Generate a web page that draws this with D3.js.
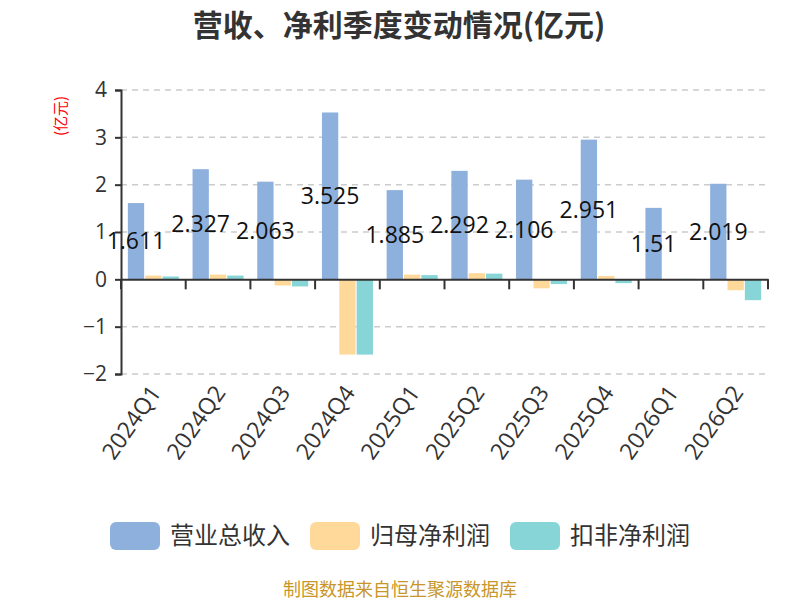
<!DOCTYPE html>
<html>
<head>
<meta charset="utf-8">
<script src="https://cdn.jsdelivr.net/npm/d3@7"></script>
<style>
  body { margin: 0; background: #fff; }
  svg { font-family: "Noto Sans CJK SC", "Noto Sans", sans-serif; }
</style>
</head>
<body>
<svg id="chart" width="800" height="600"></svg>
<script>
const quarters = ["2024Q1","2024Q2","2024Q3","2024Q4","2025Q1","2025Q2","2025Q3","2025Q4","2026Q1","2026Q2"];
const revenue = [1.611, 2.327, 2.063, 3.525, 1.885, 2.292, 2.106, 2.951, 1.51, 2.019];
const netProfit = [0.08, 0.1, -0.13, -1.59, 0.1, 0.13, -0.19, 0.07, 0.01, -0.23];
const deductProfit = [0.06, 0.08, -0.15, -1.59, 0.09, 0.12, -0.1, -0.08, 0.01, -0.44];
const seriesNames = ["营业总收入", "归母净利润", "扣非净利润"];
const colors = ["#8eb0dc", "#ffd99a", "#88d5d8"];
const yTicks = [-2, -1, 0, 1, 2, 3, 4];

const svg = d3.select("#chart");
const plotL = 121, plotR = 768, plotT = 90, plotB = 374;
const numFont = "'Open Sans', 'Noto Sans', sans-serif";

const x = d3.scaleBand().domain(quarters).range([plotL, plotR]);
const y = d3.scaleLinear().domain([-2, 4]).range([plotB, plotT]);
const inner = d3.scaleBand().domain([0, 1, 2]).range([0, 51]).paddingInner(0.06);
const barX = (i, si) => x(quarters[i]) + (x.bandwidth() - 51) / 2 + inner(si);

// title
svg.append("text").attr("x", 399).attr("y", 36).attr("text-anchor", "middle")
  .attr("font-size", 30).attr("font-weight", "bold").attr("fill", "#333")
  .text("营收、净利季度变动情况(亿元)");

// grid
svg.append("g").selectAll("line").data(yTicks.filter(d => d !== 0)).join("line")
  .attr("x1", plotL).attr("x2", plotR)
  .attr("y1", d => y(d)).attr("y2", d => y(d))
  .attr("stroke", "#ccc").attr("stroke-dasharray", "6,5").attr("stroke-width", 1.5);

// y axis
const yAxis = svg.append("g").attr("transform", `translate(${plotL},0)`)
  .call(d3.axisLeft(y).tickValues(yTicks).tickSize(6).tickPadding(8).tickFormat(d3.format("d")));
yAxis.select(".domain").attr("stroke", "#333").attr("stroke-width", 2);
yAxis.selectAll(".tick line").attr("stroke", "#333").attr("stroke-width", 2);
yAxis.selectAll("text").attr("font-size", 21).attr("fill", "#333").attr("font-family", numFont);

svg.append("text").attr("transform", `translate(66,116) rotate(-90)`)
  .attr("text-anchor", "middle").attr("font-size", 15).attr("fill", "red")
  .text("(亿元)");

// bars
const series = [revenue, netProfit, deductProfit];
series.forEach((vals, si) => {
  svg.append("g").selectAll("rect").data(vals).join("rect")
    .attr("x", (d, i) => barX(i, si))
    .attr("width", inner.bandwidth())
    .attr("y", d => y(Math.max(0, d)))
    .attr("height", d => Math.abs(y(d) - y(0)))
    .attr("fill", colors[si]);
});

// x axis at zero
const xAxis = svg.append("g").attr("transform", `translate(0,${y(0)})`)
  .call(d3.axisBottom(x).tickSize(0).tickFormat(""));
xAxis.select(".domain").attr("stroke", "#333").attr("stroke-width", 2);
svg.append("g").selectAll("line").data(d3.range(quarters.length + 1)).join("line")
  .attr("x1", i => plotL + i * x.step()).attr("x2", i => plotL + i * x.step())
  .attr("y1", y(0)).attr("y2", y(0) + 10)
  .attr("stroke", "#333").attr("stroke-width", 2);

// x labels
svg.append("g").selectAll("text").data(quarters).join("text")
  .attr("transform", d => `translate(${x(d) + x.bandwidth() / 2 + 2},${plotB + 14}) rotate(-55)`)
  .attr("text-anchor", "end").attr("dy", "0.35em")
  .attr("font-size", 23).attr("fill", "#333").attr("font-family", numFont)
  .text(d => d);

// value labels, centred on the revenue bar
svg.append("g").selectAll("text").data(revenue).join("text")
  .attr("x", (d, i) => barX(i, 0) + inner.bandwidth() / 2)
  .attr("y", d => y(d / 2))
  .attr("dy", "0.35em").attr("text-anchor", "middle")
  .attr("font-size", 23).attr("fill", "#111").attr("font-family", numFont)
  .text(d => d);

// legend
const legend = svg.append("g").selectAll("g").data(seriesNames).join("g")
  .attr("transform", (d, i) => `translate(${110 + i * 200},522)`);
legend.append("rect").attr("width", 50).attr("height", 28).attr("rx", 6)
  .attr("fill", (d, i) => colors[i]);
legend.append("text").attr("x", 60).attr("y", 14).attr("dy", "0.35em")
  .attr("font-size", 24).attr("fill", "#333").text(d => d);

// footer
svg.append("text").attr("x", 400).attr("y", 596).attr("text-anchor", "middle")
  .attr("font-size", 18).attr("fill", "#c8962a").text("制图数据来自恒生聚源数据库");
</script>
</body>
</html>
